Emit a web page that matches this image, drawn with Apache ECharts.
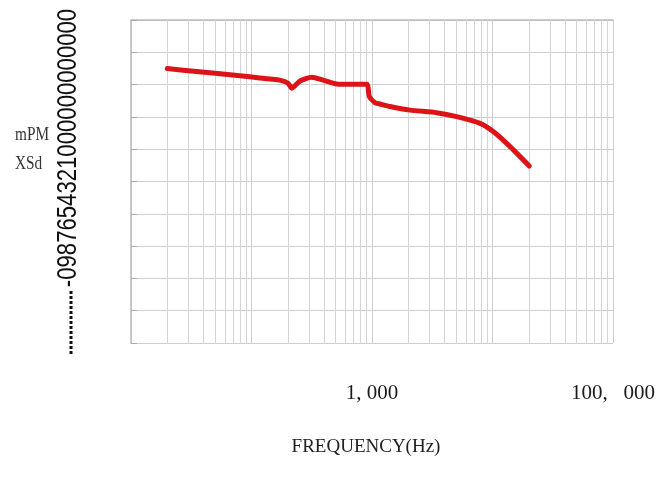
<!DOCTYPE html>
<html>
<head>
<meta charset="utf-8">
<script src="https://cdn.jsdelivr.net/npm/echarts@6/dist/echarts.min.js"></script>
<style>html,body{margin:0;padding:0;background:#fff}#c{width:670px;height:488px}</style>
</head>
<body>
<div id="c"></div>
<script>
// ---- data ----
const freqHz = [20, 30, 50, 97, 142, 172, 200, 216, 253, 316, 394, 525, 904, 950, 1060, 1165, 1410, 2070, 3440, 5050, 7900, 10200, 14000, 20200];
const levelDb = [-15.0, -15.7, -16.5, -17.6, -18.3, -18.6, -19.5, -21.1, -18.9, -17.7, -18.6, -19.9, -19.9, -23.7, -25.6, -26.0, -26.8, -27.9, -28.7, -29.9, -32.0, -34.6, -39.2, -45.2];
const xLabelValues = [1000, 100000];
const xLabelTexts = ["1, 000", "100,   000"];
const minorGridMultipliers = [2, 3, 4, 5, 6, 7, 8, 9];
const decades = [10, 100, 1000, 10000];
const yLabelString = "-0987654321000000000000";
const sideLabels = ["mPM", "XSd"];
const xAxisTitle = "FREQUENCY(Hz)";

const serif = "'Liberation Serif', 'Times New Roman', serif";
const sans = "'Liberation Sans', Arial, sans-serif";

const minorLines = [];
decades.forEach(d => minorGridMultipliers.forEach(m => minorLines.push({ xAxis: d * m })));

const chart = echarts.init(document.getElementById('c'), null, { renderer: 'canvas' });
chart.setOption({
  animation: false,
  backgroundColor: '#fff',
  grid: { left: 131, right: 57, top: 20, bottom: 145 },
  xAxis: {
    type: 'log', logBase: 10, min: 10, max: 100000,
    name: xAxisTitle, nameLocation: 'middle', nameGap: 95,
    nameTextStyle: { fontFamily: serif, fontSize: 19, color: '#222', padding: [0, 12, 0, 0] },
    axisLine: { lineStyle: { color: '#bbb', width: 1.5 } },
    axisTick: { show: false },
    splitLine: { show: true, lineStyle: { color: '#cfcfcf', width: 1 } },
    axisLabel: {
      margin: 40, fontFamily: serif, fontSize: 21, color: '#1a1a1a',
      showMinLabel: true, showMaxLabel: true,
      formatter: v => { const i = xLabelValues.indexOf(Math.round(v)); return i >= 0 ? xLabelTexts[i] : ''; }
    }
  },
  yAxis: {
    type: 'value', min: -100, max: 0, interval: 10,
    axisLine: { show: true, lineStyle: { color: '#bbb', width: 1.5 } },
    axisTick: { show: true, inside: true, length: 6, lineStyle: { color: '#aaa' } },
    axisLabel: { show: false },
    splitLine: { show: true, lineStyle: { color: '#cfcfcf', width: 1 } }
  },
  series: [
    {
      type: 'line', data: [], z: 1, silent: true,
      markLine: {
        silent: true, symbol: ['none', 'none'], animation: false,
        label: { show: false },
        lineStyle: { color: '#d4d4d4', type: 'solid', width: 1 },
        data: minorLines
      }
    },
    {
      type: 'line', z: 5,
      data: freqHz.map((f, i) => [f, levelDb[i]]),
      showSymbol: false, smooth: 0.2,
      lineStyle: { color: '#dc1418', width: 5, cap: 'round', join: 'round' }
    }
  ],
  graphic: [
    { type: 'text', x: 69, y: 148, rotation: Math.PI / 2, scaleX: 0.82, scaleY: 1,
      style: { text: yLabelString, font: "27px " + sans, fill: '#111', align: 'center', verticalAlign: 'middle' } },
    { type: 'line', shape: { x1: 71, y1: 291, x2: 71, y2: 355 },
      style: { stroke: '#111', lineWidth: 3, lineDash: [3, 2] } },
    { type: 'text', x: 15, y: 135, scaleX: 0.85, scaleY: 1,
      style: { text: sideLabels[0], font: "18px " + serif, fill: '#333', align: 'left', verticalAlign: 'middle' } },
    { type: 'text', x: 15, y: 164, scaleX: 0.85, scaleY: 1,
      style: { text: sideLabels[1], font: "18px " + serif, fill: '#333', align: 'left', verticalAlign: 'middle' } }
  ]
});
</script>
</body>
</html>
